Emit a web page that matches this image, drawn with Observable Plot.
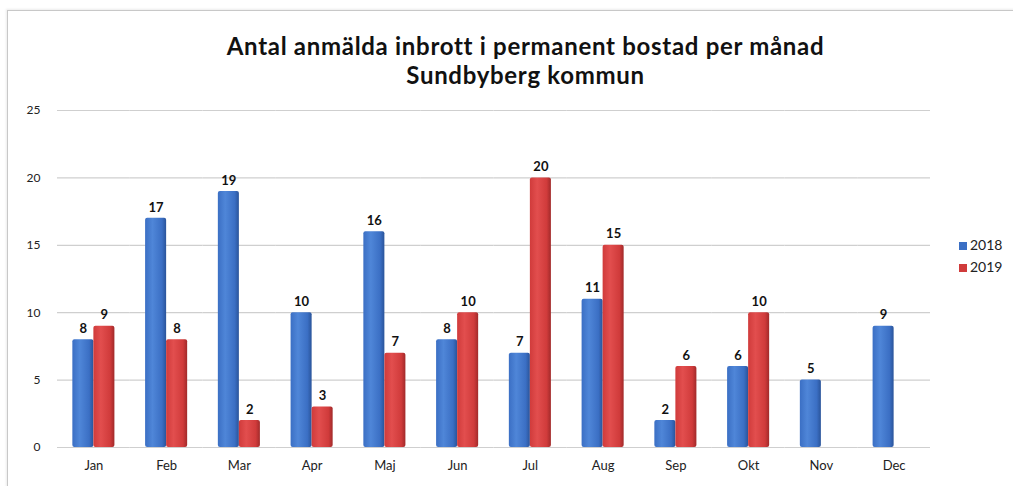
<!DOCTYPE html>
<html>
<head>
<meta charset="utf-8">
<script src="https://cdn.jsdelivr.net/npm/d3@7"></script>
<script src="https://cdn.jsdelivr.net/npm/@observablehq/plot@0.6"></script>
<style>
  html, body { margin: 0; padding: 0; background: #fff; }
  body { width: 1013px; height: 486px; position: relative; overflow: hidden; font-family: Lato, "Open Sans", sans-serif; }
  #frame { position: absolute; left: 7px; top: 10px; right: -2px; bottom: -2px; border-left: 1px solid #c8c8c8; border-top: 1px solid #c8c8c8; box-shadow: -1px -1px 2px rgba(0,0,0,0.08); }
  #title { position: absolute; top: 31px; left: 0; width: 1013px; padding-left: 38px; box-sizing: border-box; text-align: center; font-weight: bold; font-size: 24px; letter-spacing: 0.7px; line-height: 29px; color: #111; }
  #chart { position: absolute; left: 0; top: 0; }
  #legend { position: absolute; left: 959px; top: 234px; font-size: 14px; color: #222; line-height: 22px; }
  #legend .sw { display: inline-block; width: 8px; height: 8px; margin-right: 3px; vertical-align: 0px; }
</style>
</head>
<body>
<div id="frame"></div>
<div id="chart"></div>
<div id="title">Antal anmälda inbrott i permanent bostad per månad<br>Sundbyberg kommun</div>
<div id="legend"></div>
<script>
const months = ["Jan","Feb","Mar","Apr","Maj","Jun","Jul","Aug","Sep","Okt","Nov","Dec"];
const years = ["2018","2019"];
const values2018 = [8,17,19,10,16,8,7,11,2,6,5,9];
const values2019 = [9,8,2,3,7,10,20,15,6,10,null,null];
const yTicks = [0,5,10,15,20,25];
const colors = {"2018": "#3b6fc4", "2019": "#d03b3b"};
const fills = {"2018": "url(#g2018)", "2019": "url(#g2019)"};

const data = [];
months.forEach((m, i) => {
  if (values2018[i] != null) data.push({month: m, year: "2018", value: values2018[i]});
  if (values2019[i] != null) data.push({month: m, year: "2019", value: values2019[i]});
});

const svg = Plot.plot({
  width: 1013,
  height: 486,
  marginLeft: 57,
  marginRight: 83,
  marginTop: 110,
  marginBottom: 39,
  style: {fontFamily: "Lato, 'Open Sans', sans-serif", background: "transparent", color: "#222"},
  fx: {domain: months, padding: 0, round: false, label: null},
  x: {domain: years, paddingInner: 0, paddingOuter: 0.73, round: false, axis: null},
  y: {domain: [0, 25], label: null},
  marks: [
    Plot.gridY(yTicks, {stroke: "#cfcfcf", strokeOpacity: 1, strokeWidth: 1.2}),
    Plot.axisY({ticks: yTicks, tickSize: 0, tickPadding: 17, fontSize: 12, label: null}),
    Plot.axisFx({anchor: "bottom", tickSize: 0, tickPadding: 13, fontSize: 13, label: null}),
    Plot.barY(data.filter(d => d.year === "2018"), {fx: "month", x: "year", y: "value", fill: fills["2018"], rx: 2}),
    Plot.barY(data.filter(d => d.year === "2019"), {fx: "month", x: "year", y: "value", fill: fills["2019"], rx: 2}),
    Plot.text(data, {fx: "month", x: "year", y: "value", text: d => String(d.value), dy: -11, fontWeight: "bold", fontSize: 13, fill: "#111"})
  ]
});

const defs = d3.select(svg).insert("defs", ":first-child");
function grad(id, light, mid, dark) {
  const g = defs.append("linearGradient").attr("id", id).attr("x1", "0").attr("x2", "1").attr("y1", "0").attr("y2", "0");
  g.append("stop").attr("offset", "0%").attr("stop-color", mid);
  g.append("stop").attr("offset", "35%").attr("stop-color", light);
  g.append("stop").attr("offset", "80%").attr("stop-color", mid);
  g.append("stop").attr("offset", "100%").attr("stop-color", dark);
}
grad("g2018", "#4f86d8", "#3b6fc4", "#2a549a");
grad("g2019", "#e24e4e", "#d03b3b", "#a12a2a");

document.getElementById("chart").appendChild(svg);

const legend = document.getElementById("legend");
years.forEach(y => {
  const row = document.createElement("div");
  const sw = document.createElement("span");
  sw.className = "sw";
  sw.style.background = colors[y];
  row.appendChild(sw);
  row.appendChild(document.createTextNode(y));
  legend.appendChild(row);
});
</script>
</body>
</html>
